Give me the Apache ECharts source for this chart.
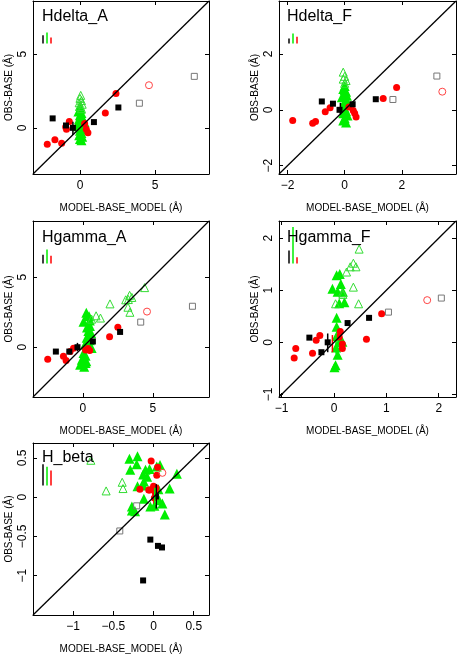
<!DOCTYPE html>
<html><head><meta charset="utf-8">
<script src="https://cdn.jsdelivr.net/npm/echarts@6/dist/echarts.min.js"></script>
<style>html,body{margin:0;padding:0;background:#fff}#c{width:458px;height:655px}</style>
</head><body><div id="c"></div>
<script>
// ---------------- DATA ----------------
const panelNames = ['Hdelta_A', 'Hdelta_F', 'Hgamma_A', 'Hgamma_F', 'H_beta'];
const axisRanges = [[-3.13, 8.6], [-2.3, 3.9], [-3.55, 9.0], [-1.05, 2.33], [-1.5, 0.69]];
const xTicks = [[0, 5], [-2, 0, 2], [0, 5], [-1, 0, 1, 2], [-1, -0.5, 0, 0.5]];
const yTicks = [[0, 5], [-2, 0, 2], [0, 5], [-1, 0, 1, 2], [-1, -0.5, 0, 0.5]];
const xName = 'MODEL-BASE_MODEL (Å)';
const yName = 'OBS-BASE (Å)';

const blackFilled = [
  [[-1.82, 0.64], [-0.93, 0.16], [-0.47, 0.0], [0.93, 0.39], [2.56, 1.38]],
  [[-0.80, 0.30], [-0.41, 0.22], [-0.18, 0.0], [0.28, 0.2], [1.09, 0.38]],
  [[-1.92, -0.31], [-0.96, -0.31], [-0.38, 0.0], [0.72, 0.41], [2.66, 1.09]],
  [[-0.47, 0.09], [-0.24, -0.19], [-0.12, 0.0], [0.26, 0.37], [0.67, 0.47]],
  [[0.03, 0.01], [-0.04, -0.54], [0.055, -0.62], [0.105, -0.64], [-0.13, -1.06]]
];
const blackOpen = [
  [[3.96, 1.67], [7.62, 3.49]],
  [[1.69, 0.37], [3.23, 1.21]],
  [[4.13, 1.79], [7.82, 2.92]],
  [[1.04, 0.58], [2.05, 0.85]],
  [[-0.21, -0.11], [-0.42, -0.43]]
];
const redFilled = [
  [[-2.18, -1.12], [-1.67, -0.81], [-1.22, -1.05], [-0.71, 0.43], [-0.95, 0.05], [-0.9, -0.1], [0.31, 0.30], [0.42, -0.09], [0.53, -0.34], [1.69, 1.01], [2.4, 2.32]],
  [[-1.82, -0.38], [-1.12, -0.48], [-1.02, -0.42], [-0.68, -0.07], [-0.51, 0.07], [0.3, -0.02], [0.35, -0.12], [0.40, -0.26], [1.35, 0.41], [1.82, 0.80], [0.15, 0.1]],
  [[-2.5, -0.85], [-1.38, -0.65], [-1.19, -0.94], [-0.66, -0.07], [-0.9, -0.3], [0.37, -0.1], [0.49, -0.24], [0.2, -0.2], [1.91, 0.75], [2.5, 1.42]],
  [[-0.73, -0.12], [-0.76, -0.30], [-0.41, -0.21], [-0.34, 0.04], [-0.27, 0.13], [0.12, 0.21], [0.16, -0.03], [0.16, -0.12], [0.62, 0.06], [0.91, 0.55], [0.1, 0.1]],
  [[-0.03, 0.46], [0.05, 0.38], [0.04, 0.28], [-0.17, 0.10], [-0.05, 0.09], [0.0, 0.14], [0.02, 0.06], [0.01, -0.01], [-0.06, 0.09], [0.03, 0.12]]
];
const redOpen = [
  [[4.6, 2.89]],
  [[3.42, 0.65]],
  [[4.58, 2.54]],
  [[1.78, 0.81]],
  [[0.11, 0.31]]
];
const greenFilled = [
  [[0.0, 1.5], [0.05, 1.3], [-0.1, 1.1], [0.1, 1.0], [0.0, 0.85], [0.15, 0.7], [-0.05, 0.6], [0.1, 0.5], [0.0, 0.35], [0.2, 0.2], [-0.1, 0.1], [0.05, 0.0], [0.25, -0.1], [0.0, -0.2], [0.1, -0.35], [-0.05, -0.5], [0.15, -0.6], [0.0, -0.75], [0.1, -0.85], [0.3, 0.4], [-0.15, 0.3]],
  [[0.0, 0.85], [-0.05, 0.75], [0.05, 0.65], [0.0, 0.55], [-0.1, 0.45], [0.05, 0.38], [0.0, 0.3], [0.1, 0.2], [-0.05, 0.12], [0.0, 0.05], [0.05, -0.05], [-0.05, -0.12], [0.1, -0.2], [0.0, -0.3], [-0.05, -0.38], [0.05, -0.45], [0.0, 0.7], [0.08, 0.5]],
  [[0.33, 2.25], [0.25, 2.45], [0.45, 2.2], [0.05, 1.81], [0.5, 1.9], [0.51, 1.52], [0.3, 1.4], [0.4, 1.16], [0.6, 1.0], [0.28, 0.68], [0.5, 0.5], [0.16, 0.2], [0.4, 0.3], [0.63, -0.05], [0.3, 0.1], [0.05, -0.41], [0.2, -0.6], [-0.07, -0.89], [0.25, -1.0], [-0.19, -1.25], [0.2, -1.13], [0.1, -1.4]],
  [[0.05, 1.29], [0.11, 1.31], [-0.03, 1.03], [0.13, 1.12], [0.07, 0.97], [0.17, 0.97], [0.1, 0.75], [0.2, 0.77], [0.05, 0.47], [0.05, 0.30], [0.05, 0.12], [0.1, 0.0], [0.16, 0.01], [0.07, -0.24], [0.01, -0.48], [0.03, -0.44], [0.04, -0.1]],
  [[-0.30, 0.49], [-0.20, 0.52], [-0.21, 0.42], [-0.29, 0.35], [-0.10, 0.35], [-0.13, 0.29], [-0.05, 0.36], [0.04, 0.39], [0.08, 0.41], [-0.12, 0.20], [-0.13, 0.15], [-0.20, 0.14], [0.06, 0.10], [0.20, 0.11], [0.29, 0.30], [-0.12, -0.02], [-0.27, -0.12], [-0.27, -0.17], [-0.23, -0.18], [-0.04, -0.12], [0.07, -0.04], [0.11, -0.08], [0.14, -0.22], [0.01, -0.11], [-0.08, 0.26]]
];
const greenOpen = [
  [[0.05, 2.2], [0.0, 2.0], [0.1, 1.85], [-0.05, 1.7], [0.15, 1.6], [0.0, 1.45], [0.1, 1.3]],
  [[-0.05, 1.35], [0.0, 1.2], [-0.05, 1.1], [0.05, 1.05], [0.0, 0.95]],
  [[1.94, 3.09], [0.95, 2.24], [1.26, 2.08], [0.63, 2.0], [3.06, 3.38], [3.34, 3.7], [3.25, 3.4], [3.5, 3.55], [3.22, 2.85], [3.36, 2.49], [4.41, 4.25]],
  [[0.48, 1.79], [0.37, 1.52], [0.31, 1.45], [0.42, 1.45], [0.24, 1.35], [0.37, 1.06], [0.16, 0.95], [0.03, 0.74], [0.47, 0.74], [0.17, 0.92]],
  [[-0.59, 0.08], [-0.39, 0.19], [-0.38, 0.11], [-0.78, 0.47]]
];
// error bars on points: [x, low, high, colour index (0 black, 1 green, 2 red)]
const pointErrors = [
  [[-0.47, -0.49, 0.41, 0]],
  [[-0.15, -0.17, 0.25, 0]],
  [[-0.38, -0.29, 0.31, 0]],
  [[-0.12, -0.19, 0.17, 0], [-0.03, -0.19, 0.14, 2], [0.04, -0.22, 0.15, 1]],
  [[0.034, -0.145, 0.165, 0], [0.004, -0.08, 0.1, 2], [0.015, -0.1, 0.12, 1]]
];
// typical error bar lengths shown top-left: [black, green, red]
const typicalErrors = [
  [0.56, 0.74, 0.41],
  [0.18, 0.36, 0.24],
  [0.63, 0.99, 0.56],
  [0.25, 0.70, 0.12],
  [0.27, 0.24, 0.19]
];

// ---------------- LAYOUT / STYLE ----------------
const grids = [
  { left: 33, top: 1, width: 176, height: 173 },
  { left: 279, top: 1, width: 177, height: 173 },
  { left: 33, top: 221, width: 176, height: 176 },
  { left: 279, top: 221, width: 177, height: 176 },
  { left: 33, top: 443, width: 176, height: 175 }
];
const titlePos = [[42, 9], [287, 9], [42, 230], [287, 230], [42, 450]];
const errColors = ['#000000', '#00ee00', '#ff0000'];
const FONT = 'Liberation Sans';
const fmt = v => String(v).replace('-', '\u2212');

const xAxes = [], yAxes = [], series = [], titles = [];
grids.forEach((g, i) => {
  const [mn, mx] = axisRanges[i];
  const common = {
    min: mn, max: mx, type: 'value', splitLine: { show: false },
    axisLine: { show: true, onZero: false, lineStyle: { color: '#000', width: 1 } }
  };
  xAxes.push(Object.assign({}, common, {
    gridIndex: i, position: 'bottom',
    axisTick: { inside: true, length: 4, customValues: xTicks[i], lineStyle: { color: '#000' } },
    axisLabel: { customValues: xTicks[i], formatter: fmt, fontFamily: FONT, fontSize: 12, color: '#000', margin: 6 },
    name: xName, nameLocation: 'middle', nameGap: 29,
    nameTextStyle: { fontFamily: FONT, fontSize: 10, color: '#000' }
  }));
  xAxes.push(Object.assign({}, common, {
    gridIndex: i, position: 'top',
    axisTick: { inside: true, length: 4, customValues: xTicks[i], lineStyle: { color: '#000' } },
    axisLabel: { show: false }
  }));
  yAxes.push(Object.assign({}, common, {
    gridIndex: i, position: 'left',
    axisTick: { inside: true, length: 4, customValues: yTicks[i], lineStyle: { color: '#000' } },
    axisLabel: { customValues: yTicks[i], formatter: fmt, rotate: 90, fontFamily: FONT, fontSize: 12, color: '#000', margin: 4 },
    name: yName, nameLocation: 'middle', nameGap: 19,
    nameTextStyle: { fontFamily: FONT, fontSize: 10, color: '#000' }
  }));
  yAxes.push(Object.assign({}, common, {
    gridIndex: i, position: 'right',
    axisTick: { inside: true, length: 4, customValues: yTicks[i], lineStyle: { color: '#000' } },
    axisLabel: { show: false }
  }));
  titles.push({
    text: panelNames[i], left: titlePos[i][0], top: titlePos[i][1], padding: 0,
    textStyle: { fontFamily: FONT, fontSize: 16, fontWeight: 'normal', color: '#000' }
  });
  const ax = { xAxisIndex: 2 * i, yAxisIndex: 2 * i };
  series.push(Object.assign({
    type: 'scatter', data: greenFilled[i], symbol: 'triangle', symbolSize: 10,
    itemStyle: { color: '#00ee00', opacity: 1 }, z: 2
  }, ax));
  series.push(Object.assign({
    type: 'scatter', data: greenOpen[i], symbol: 'triangle', symbolSize: 8,
    itemStyle: { color: 'rgba(0,0,0,0)', borderColor: '#33dd33', borderWidth: 1, opacity: 1 }, z: 2
  }, ax));
  series.push(Object.assign({
    type: 'scatter', data: redFilled[i], symbol: 'circle', symbolSize: 7,
    itemStyle: { color: '#ff0000', opacity: 1 }, z: 3
  }, ax));
  series.push(Object.assign({
    type: 'scatter', data: blackFilled[i], symbol: 'rect', symbolSize: 6,
    itemStyle: { color: '#000000', opacity: 1 }, z: 4
  }, ax));
  series.push(Object.assign({
    type: 'scatter', data: blackOpen[i], symbol: 'rect', symbolSize: 6,
    itemStyle: { color: 'rgba(0,0,0,0)', borderColor: '#777', borderWidth: 1, opacity: 1 }, z: 4
  }, ax));
  series.push(Object.assign({
    type: 'scatter', data: redOpen[i], symbol: 'circle', symbolSize: 7,
    itemStyle: { color: 'rgba(0,0,0,0)', borderColor: '#ff4444', borderWidth: 1, opacity: 1 }, z: 4
  }, ax));
  series.push(Object.assign({
    type: 'custom', data: pointErrors[i], z: 5, silent: true,
    renderItem: (params, api) => {
      const p1 = api.coord([api.value(0), api.value(1)]);
      const p2 = api.coord([api.value(0), api.value(2)]);
      return { type: 'line', shape: { x1: p1[0], y1: p1[1], x2: p2[0], y2: p2[1] },
        style: { stroke: errColors[api.value(3)], lineWidth: 1.5 } };
    }
  }, ax));
  series.push(Object.assign({
    type: 'custom', data: typicalErrors[i].map((v, k) => [k, v]), z: 5, silent: true,
    encode: { x: -1, y: -1 },
    renderItem: (params, api) => {
      const cs = params.coordSys;
      const k = api.value(0);
      const len = api.size([0, api.value(1)])[1];
      const x = cs.x + 10 + 4 * k;
      const yb = cs.y + 42.5;
      return { type: 'line', shape: { x1: x, y1: yb, x2: x, y2: yb - len },
        style: { stroke: errColors[k], lineWidth: 1.5 } };
    }
  }, ax));
  series.push(Object.assign({
    type: 'line', data: [[mn, mn], [mx, mx]], symbol: 'none', silent: true,
    lineStyle: { color: '#000', width: 1.3 }, z: 6
  }, ax));
});

const chart = echarts.init(document.getElementById('c'), null, { renderer: 'canvas' });
chart.setOption({
  animation: false,
  backgroundColor: '#fff',
  title: titles,
  grid: grids,
  xAxis: xAxes,
  yAxis: yAxes,
  series: series
});
</script></body></html>
